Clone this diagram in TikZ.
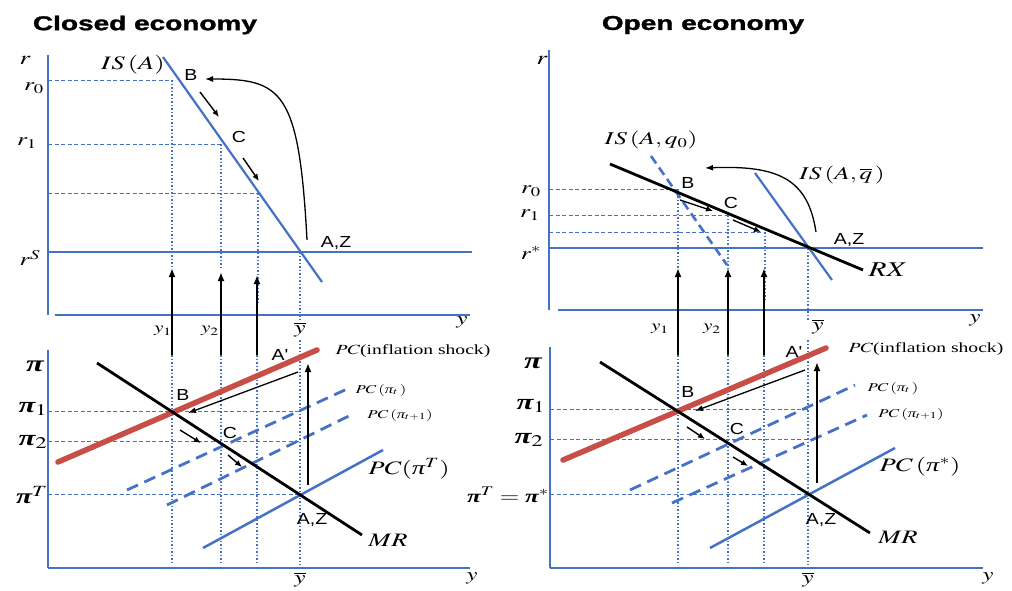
\documentclass[tikz,border=0pt]{standalone}
\usepackage{mathptmx}
\usepackage{fontspec}
\setmainfont{Liberation Serif}
\newfontfamily\ari{Liberation Sans}
\newfontfamily\ttl{Liberation Sans}[UprightFont={* Bold},FakeBold=1.2]
\usetikzlibrary{arrows.meta}
\definecolor{ablue}{RGB}{68,114,196}
\definecolor{ared}{RGB}{200,78,72}
\newcommand\W[1]{\scalebox{1.4}[1]{#1}}
\newcommand\Wp[1]{\scalebox{1.22}[1]{#1}}
\newcommand\fs[1]{\fontsize{#1}{#1}\selectfont}
\newcommand\PI{\hbox{\bfseries\itshape π}}
\newcommand\pii{\hbox{\itshape π}}
\begin{document}
\begin{tikzpicture}[x=1pt,y=-1pt,
  axis/.style={ablue,line width=1.7pt},
  guide/.style={ablue,line width=0.9pt,dash pattern=on 4pt off 2.5pt},
  vguide/.style={ablue,line width=1.3pt,dash pattern=on 1.5pt off 2pt},
  isline/.style={ablue,line width=2.2pt},
  blk/.style={black,line width=2.8pt},
  pcdash/.style={ablue,line width=2.8pt,dash pattern=on 12pt off 7pt},
  pcsolid/.style={ablue,line width=2.5pt},
  shock/.style={ared,line width=5.5pt,line cap=round},
  uparr/.style={-{Latex[length=9pt,width=7pt]},line width=2pt},
  sarr/.style={-{Latex[length=7pt,width=6pt]},line width=1.4pt},
  carr/.style={-{Latex[length=8pt,width=6pt]},line width=1.3pt},
  title/.style={inner sep=0pt,font=\ttl\fs{20}},
  pt/.style={inner sep=0pt,font=\ari\fs{16}},
  ml/.style={inner sep=0pt,font=\fs{18}},
  sl/.style={inner sep=0pt,font=\fs{13}},
]
\useasboundingbox[fill=white] (0,0) rectangle (1012,590);

% ================= CLOSED ECONOMY, TOP =================
\node[title] (t1) at (145,25) {\scalebox{1.4}[1]{Closed economy}};
\draw[axis] (48,55) -- (48,315);
\draw[axis] (55,315) -- (470,315);
\draw[axis] (48,252) -- (472,252);
\draw[guide] (48,80) -- (172,80);
\draw[guide] (48,144) -- (221,144);
\draw[guide] (48,193) -- (258,193);
\draw[vguide] (172,80) -- (172,268);
\draw[vguide] (221,144) -- (221,270);
\draw[vguide] (258,193) -- (258,302);
\draw[vguide] (300,252) -- (300,320);
\draw[isline] (163,57) -- (322,282);
\node[ml,font=\fs{19}] (lr) at (25,60) {\W{$r$}};
\node[ml] (lr0) at (34,88) {\W{$r_0$}};
\node[ml] (lr1) at (27,143) {\W{$r_1$}};
\node[ml] (lrs) at (30,258) {\W{$r^S$}};
\node[ml,font=\fs{19}] (lis) at (133,65) {\W{$IS\,(A)$}};
\node[ml] (ly) at (462,322) {\W{$y$}};
\node[ml,font=\fs{15}] (ly1) at (163,331) {\W{$y_1$}};
\node[ml,font=\fs{15}] (ly2) at (210,331) {\W{$y_2$}};
\node[ml] (lyb) at (300,330) {\W{$\overline{y}$}};
\node[pt] (lB) at (191,75) {\Wp{B}};
\node[pt] (lC) at (239,137) {\Wp{C}};
\node[pt] (lAZ) at (336,243) {\Wp{A,Z}};
\coordinate (cs1) at (307,240);
\coordinate (ce1) at (205,79);
\draw[carr] (cs1) .. controls (299,90) and (282,79) .. (ce1);
\coordinate (la1) at (200,92);  \coordinate (lb1) at (219,117);
\coordinate (la2) at (243,158); \coordinate (lb2) at (259,181);
\draw[sarr] (la1) -- (lb1);
\draw[sarr] (la2) -- (lb2);

% ================= CLOSED ECONOMY, BOTTOM =================
\draw[axis] (48,350) -- (48,568);
\draw[axis] (48,568) -- (470,568);
\draw[guide] (48,411) -- (300,411);
\draw[guide] (48,441) -- (300,441);
\draw[guide] (48,494) -- (300,494);
\draw[vguide] (172,355) -- (172,565);
\draw[vguide] (221,355) -- (221,565);
\draw[vguide] (257,355) -- (257,565);
\draw[vguide] (300,340) -- (300,565);
\draw[pcdash] (127,490) -- (347,389);
\draw[pcdash] (167,505) -- (353,414);
\draw[pcsolid] (203,548) -- (383,450);
\draw[shock] (58,462) -- (317,350);
\draw[blk] (97,363) -- (362,535);
\draw[uparr] (172,355) -- (172,268);
\draw[uparr] (221,355) -- (221,272);
\draw[uparr] (257,355) -- (257,275);
\coordinate (lAZb) at (308,485); \coordinate (lApb) at (308,363);
\draw[uparr] (lAZb) -- (lApb);
\coordinate (lAs) at (298,372); \coordinate (lBb) at (188,413);
\draw[carr] (lAs) -- (lBb);
\coordinate (la3) at (180,430); \coordinate (lb3) at (201,443);
\coordinate (la4) at (228,455); \coordinate (lb4) at (242,467);
\draw[sarr] (la3) -- (lb3);
\draw[sarr] (la4) -- (lb4);
\node[ml,font=\fs{23}] (lpi) at (35,366) {\W{$\PI$}};
\node[ml,font=\fs{22}] (lpi1) at (33,409) {\W{$\PI_1$}};
\node[ml,font=\fs{22}] (lpi2) at (33,442) {\W{$\PI_2$}};
\node[ml,font=\fs{21}] (lpiT) at (32,495) {\W{$\PI^T$}};
\node[ml,font=\fs{19}] (lMR) at (388,540) {\W{$MR$}};
\node[sl,font=\fs{14}] (lshock) at (413,351) {\W{$PC$(inflation shock)}};
\node[sl,font=\fs{12}] (lpct) at (381,390) {\W{$PC\,(\pii_t\,)$}};
\node[sl,font=\fs{12}] (lpct1) at (400,415) {\W{$PC\,(\pii_{t+1})$}};
\node[ml,font=\fs{19}] (lpcT) at (409,469) {\W{$PC(\pii^T)$}};
\node[pt] (lBl) at (183,395) {\Wp{B}};
\node[pt] (lCl) at (230,433) {\Wp{C}};
\node[pt] (lAZl) at (312,520) {\Wp{A,Z}};
\node[pt] (lAp) at (280,355) {\Wp{A'}};
\node[ml] (lyb2) at (300,580) {\W{$\overline{y}$}};
\node[ml] (ly3) at (472,578) {\W{$y$}};

% ================= OPEN ECONOMY, TOP =================
\node[title] (t2) at (703,25) {\scalebox{1.4}[1]{Open economy}};
\draw[axis] (549,50) -- (549,310);
\draw[axis] (558,310) -- (983,310);
\draw[axis] (549,248) -- (983,248);
\draw[guide] (549,189) -- (678,189);
\draw[guide] (549,215) -- (728,215);
\draw[guide] (549,232) -- (765,232);
\draw[vguide] (678,189) -- (678,268);
\draw[vguide] (728,215) -- (728,268);
\draw[vguide] (765,232) -- (765,300);
\draw[vguide] (808,248) -- (808,320);
\draw[ablue,line width=2.6pt,dash pattern=on 9pt off 5pt] (651,156) -- (727,265);
\draw[isline] (755,173) -- (832,280);
\draw[blk] (610,164) -- (863,270);
\node[ml,font=\fs{19}] (rr) at (542,60) {\W{$r$}};
\node[ml] (rr0) at (531,191) {\W{$r_0$}};
\node[ml] (rr1) at (530,215) {\W{$r_1$}};
\node[ml] (rrs) at (531,253) {\W{$r^*$}};
\node[ml,font=\fs{18}] (ris0) at (651,140) {\W{$IS\,(A,q_0)$}};
\node[ml,font=\fs{18}] (risq) at (842,175) {\W{$IS\,(A,\overline{q}\,)$}};
\node[ml,font=\fs{21}] (rRX) at (888,270) {\W{$RX$}};
\node[ml] (ry) at (975,320) {\W{$y$}};
\node[ml,font=\fs{15}] (ry1) at (660,329) {\W{$y_1$}};
\node[ml,font=\fs{15}] (ry2) at (712,329) {\W{$y_2$}};
\node[ml] (ryb) at (818,327) {\W{$\overline{y}$}};
\node[pt] (rB) at (688,183) {\Wp{B}};
\node[pt] (rC) at (731,203) {\Wp{C}};
\node[pt] (rAZ) at (849,240) {\Wp{A,Z}};
\coordinate (cs2) at (816,232);
\coordinate (ce2) at (705,168);
\draw[carr] (cs2) .. controls (808,180) and (780,165) .. (ce2);
\coordinate (ra1) at (680,200); \coordinate (rb1) at (713,211);
\coordinate (ra2) at (733,220); \coordinate (rb2) at (761,232);
\draw[sarr] (ra1) -- (rb1);
\draw[sarr] (ra2) -- (rb2);

% ================= OPEN ECONOMY, BOTTOM =================
\draw[axis] (550,347) -- (550,568);
\draw[axis] (550,568) -- (983,568);
\draw[guide] (550,409) -- (808,409);
\draw[guide] (550,439) -- (808,439);
\draw[guide] (550,494) -- (808,494);
\draw[vguide] (678,355) -- (678,565);
\draw[vguide] (728,355) -- (728,565);
\draw[vguide] (764,355) -- (764,565);
\draw[vguide] (808,340) -- (808,565);
\draw[pcdash] (630,490) -- (855,385);
\draw[pcdash] (672,503) -- (867,415);
\draw[pcsolid] (710,548) -- (895,448);
\draw[shock] (563,460) -- (826,348);
\draw[blk] (600,362) -- (870,533);
\draw[uparr] (678,355) -- (678,268);
\draw[uparr] (728,355) -- (728,268);
\draw[uparr] (764,355) -- (764,268);
\coordinate (rAZb) at (817,483); \coordinate (rApb) at (817,362);
\draw[uparr] (rAZb) -- (rApb);
\coordinate (rAs) at (805,370); \coordinate (rBb) at (695,411);
\draw[carr] (rAs) -- (rBb);
\coordinate (ra3) at (687,427); \coordinate (rb3) at (705,439);
\coordinate (ra4) at (733,457); \coordinate (rb4) at (748,466);
\draw[sarr] (ra3) -- (rb3);
\draw[sarr] (ra4) -- (rb4);
\node[ml,font=\fs{23}] (rpi) at (533,363) {\W{$\PI$}};
\node[ml,font=\fs{22}] (rpi1) at (531,406) {\W{$\PI_1$}};
\node[ml,font=\fs{22}] (rpi2) at (529,440) {\W{$\PI_2$}};
\node[ml,font=\fs{18}] (rpiT) at (508,495) {\W{$\PI^T=\PI^*$}};
\node[ml,font=\fs{19}] (rMR) at (898,537) {\W{$MR$}};
\node[sl,font=\fs{14}] (rshock) at (926,349) {\W{$PC$(inflation shock)}};
\node[sl,font=\fs{12}] (rpct) at (893,388) {\W{$PC\,(\pii_t\,)$}};
\node[sl,font=\fs{12}] (rpct1) at (911,414) {\W{$PC\,(\pii_{t+1})$}};
\node[ml,font=\fs{19}] (rpcs) at (920,467) {\W{$PC\,(\pii^*)$}};
\node[pt] (rBl) at (688,392) {\Wp{B}};
\node[pt] (rCl) at (737,429) {\Wp{C}};
\node[pt] (rAZl) at (821,520) {\Wp{A,Z}};
\node[pt] (rAp) at (794,352) {\Wp{A'}};
\node[ml] (ryb2) at (808,580) {\W{$\overline{y}$}};
\node[ml] (ry3) at (988,578) {\W{$y$}};
\end{tikzpicture}
\end{document}
